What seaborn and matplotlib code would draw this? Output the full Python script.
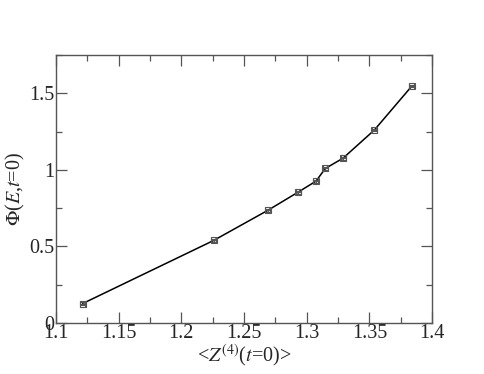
import matplotlib
matplotlib.use("Agg")
import matplotlib.pyplot as plt
import seaborn as sns
import pandas as pd
from matplotlib.ticker import MultipleLocator

z4 = [1.1213, 1.2258, 1.2691, 1.2931, 1.3074, 1.3149, 1.3290, 1.3540, 1.3840]
phi = [0.127, 0.539, 0.736, 0.854, 0.926, 1.009, 1.076, 1.260, 1.548]
z4_err = [0.002] * 9
phi_err = [0.009] * 9
xticks = [1.1, 1.15, 1.2, 1.25, 1.3, 1.35, 1.4]
xticklabels = ["1.1", "1.15", "1.2", "1.25", "1.3", "1.35", "1.4"]
yticks = [0, 0.5, 1.0, 1.5]
yticklabels = ["0", "0.5", "1", "1.5"]

df = pd.DataFrame({"z4": z4, "phi": phi})

sns.set_style("ticks")
plt.rcParams["font.family"] = "serif"
plt.rcParams["font.serif"] = ["Liberation Serif", "DejaVu Serif"]
plt.rcParams["mathtext.fontset"] = "stix"

fig = plt.figure(figsize=(4.84, 3.74), dpi=100)
ax = fig.add_axes([0.1157, 0.1364, 0.7769, 0.7166])

sns.lineplot(data=df, x="z4", y="phi", ax=ax, color="black", lw=1.1,
             sort=False, estimator=None)
ax.errorbar(z4, phi, xerr=z4_err, yerr=phi_err, fmt="s", ms=5,
            mfc="none", mec="#555555", ecolor="#555555", elinewidth=0.8,
            capsize=2.5, mew=0.8, zorder=3)

ax.set_xlim(1.1, 1.4)
ax.set_ylim(0, 1.75)
ax.set_xticks(xticks)
ax.set_xticklabels(xticklabels)
ax.set_yticks(yticks)
ax.set_yticklabels(yticklabels)
ax.xaxis.set_minor_locator(MultipleLocator(0.025))
ax.yaxis.set_minor_locator(MultipleLocator(0.25))

ax.tick_params(which="both", direction="in", top=True, right=True,
               labelsize=14.5, color="#555555")
ax.tick_params(which="major", length=8, width=0.9, pad=1)
ax.tick_params(which="minor", length=4, width=0.9)
for s in ax.spines.values():
    s.set_color("#555555")
    s.set_linewidth(1.0)

ax.set_xlabel(r"<$Z^{(4)}$($t$=0)>", fontsize=14.5, labelpad=0)
ax.set_ylabel(r"$\Phi$($E$,$t$=0)", fontsize=14.5, labelpad=2)

fig.savefig("out.png", dpi=100)
